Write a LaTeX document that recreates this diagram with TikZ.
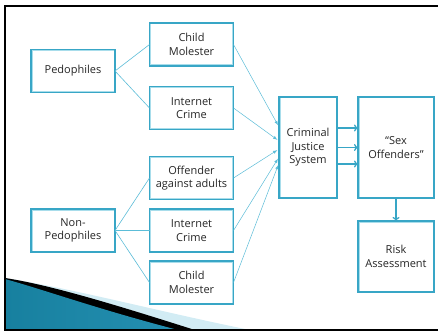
\documentclass[tikz,border=0pt]{standalone}
\usepackage{fontspec}
\setmainfont{Open Sans}
\usetikzlibrary{arrows.meta}
\definecolor{boxblue}{HTML}{38A6C6}
\definecolor{boxlight}{HTML}{A8DDEB}
\definecolor{linkblue}{HTML}{5CBDD8}
\definecolor{swdark}{HTML}{17809F}
\definecolor{swmid}{HTML}{58BAE2}
\definecolor{swright}{HTML}{2590B2}
\definecolor{swpale}{HTML}{D2ECF4}
\begin{document}
\begin{tikzpicture}[x=1pt,y=-1pt,
	box/.style={draw=boxblue, line width=1.2pt, fill=white, outer sep=0pt,
		align=center, text=black!85, font=\fontsize{11}{13.5}\selectfont,
		inner sep=1pt, minimum width=84pt, minimum height=43pt,
		path picture={\draw[boxlight,line width=1pt]
			([shift={(1pt,-1pt)}]path picture bounding box.north west) rectangle
			([shift={(-1pt,1pt)}]path picture bounding box.south east);}},
	link/.style={draw=linkblue, line width=0.6pt},
	feed/.style={draw=linkblue, line width=0.5pt, -latex, shorten >=2pt},
	flow/.style={draw=boxblue, line width=1.3pt, -{To[length=4pt,width=7pt]}}]
	\useasboundingbox[fill=white] (0,0) rectangle (438,331);
	% slide corner
	\fill[swpale] (5,278) .. controls (80,290) and (160,312) .. (255,331) -- (5,331) -- cycle;
	\fill[black] (5,278) .. controls (50,285) and (110,303) .. (198,331) -- (5,331) -- cycle;
	\shade[left color=swdark, middle color=swmid, right color=swright]
		(5,279) .. controls (45,290) and (100,310) .. (182,331) -- (5,331) -- cycle;
	\draw[line width=2.5pt] (438,6) -- (5,6) -- (5,330) -- (438,330);
	% boxes
	\node[box] (ped) at (73,71) {Pedophiles};
	\node[box] (nonped) at (73,230.5) {Non-\\Pedophiles};
	\node[box] (cm1) at (191.5,44.5) {Child\\Molester};
	\node[box] (ic1) at (191.5,108) {Internet\\Crime};
	\node[box] (off) at (191.5,178) {Offender\\against adults};
	\node[box] (ic2) at (191.5,230.5) {Internet\\Crime};
	\node[box] (cm2) at (191.5,282.5) {Child\\Molester};
	\node[box, minimum width=58pt, minimum height=101pt] (cjs) at (308,147.5) {Criminal\\Justice\\System};
	\node[box, minimum width=76pt, minimum height=101pt] (sexoff) at (396,147.5) {“Sex\\Offenders”};
	\node[box, minimum width=76pt, minimum height=71pt] (risk) at (396,256.5) {Risk\\Assessment};
	% links
	\draw[link] (ped.east) -- (cm1.west);
	\draw[link] (ped.east) -- (ic1.west);
	\draw[link] (nonped.east) -- (off.west);
	\draw[link] (nonped.east) -- (ic2.west);
	\draw[link] (nonped.east) -- (cm2.west);
	\draw[feed] (cm1.east) -- ([yshift=20.5pt]cjs.west);
	\draw[feed] (ic1.east) -- ([yshift=6.5pt]cjs.west);
	\draw[feed] (off.east) -- ([yshift=-1.5pt]cjs.west);
	\draw[feed] (ic2.east) -- ([yshift=-9.5pt]cjs.west);
	\draw[feed] (cm2.east) -- ([yshift=-15.5pt]cjs.west);
	\draw[flow] ([yshift=19.5pt]cjs.east) -- ([yshift=19.5pt]sexoff.west);
	\draw[flow] (cjs.east) -- (sexoff.west);
	\draw[flow] ([yshift=-16.5pt]cjs.east) -- ([yshift=-16.5pt]sexoff.west);
	\draw[flow] (sexoff.south) -- (risk.north);
\end{tikzpicture}
\end{document}
